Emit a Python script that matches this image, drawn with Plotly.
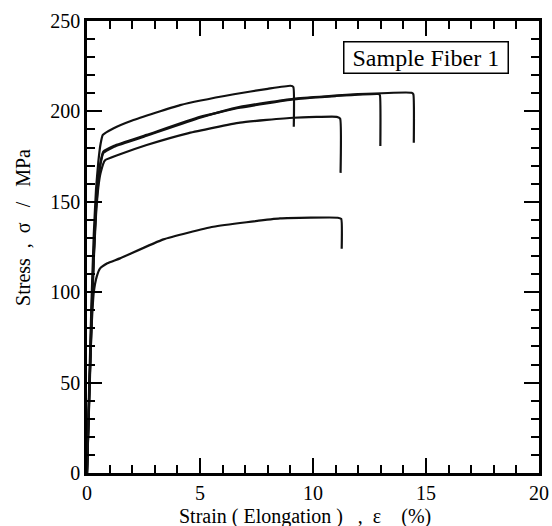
import plotly.graph_objects as go

# stress-strain curves of five specimens
strain_a = [0, 0.1, 0.2, 0.3, 0.4, 0.5, 0.6, 0.7, 1.16, 2.0, 4.12, 6.5, 8.0, 9.0, 9.13, 9.15]
stress_a = [0, 50, 95, 132, 157, 172, 182, 187, 190.6, 195, 203.5, 209.5, 212.5, 214.2, 213.5, 191.5]

strain_b = [0, 0.1, 0.2, 0.3, 0.4, 0.5, 0.6, 0.72, 1.2, 2.64, 5.0, 6.77, 9.13, 11.0, 12.9, 12.96, 12.98]
stress_b = [0, 45, 88, 122, 148, 163, 172, 177.7, 181, 187, 197, 202, 206.7, 208.5, 209.6, 209, 180.9]

strain_c = [0, 0.1, 0.2, 0.3, 0.4, 0.5, 0.6, 0.72, 1.2, 2.64, 5.0, 6.77, 9.13, 12.0, 14.36, 14.44, 14.46]
stress_c = [0, 42, 85, 120, 146, 161, 171, 177, 180.5, 186.5, 196.5, 202.5, 207, 209.5, 210.3, 209.5, 182.7]

strain_d = [0, 0.1, 0.2, 0.3, 0.4, 0.5, 0.6, 0.8, 1.4, 2.64, 4.5, 6.77, 9.13, 11.05, 11.2, 11.22]
stress_d = [0, 40, 82, 118, 143, 158, 166, 173, 176, 181.4, 188, 193.8, 196.5, 197, 196, 166]

strain_e = [0, 0.1, 0.2, 0.3, 0.43, 0.58, 0.9, 1.46, 3.38, 5.59, 8.54, 11.1, 11.25, 11.27]
stress_e = [0, 45, 80, 100, 108.6, 113.2, 116, 118.7, 129.2, 136.2, 140.8, 141.2, 140.5, 124]

curves = [(strain_a, stress_a), (strain_b, stress_b), (strain_c, stress_c),
          (strain_d, stress_d), (strain_e, stress_e)]

x_ticks = [0, 5, 10, 15, 20]
y_ticks = [0, 50, 100, 150, 200, 250]

serif = "Liberation Serif, Times New Roman, serif"
sp = "\u00a0"

fig = go.Figure()
for xs, ys in curves:
    fig.add_trace(go.Scatter(x=xs, y=ys, mode="lines",
                             line=dict(color="#111111", width=2.2, shape="spline", smoothing=0.4),
                             showlegend=False, hoverinfo="skip"))

axis_common = dict(
    showline=True, linecolor="black", linewidth=2.5, mirror="allticks",
    ticks="inside", ticklen=15, tickwidth=1.5, tickcolor="black",
    showgrid=False, zeroline=False, automargin=False,
    tickfont=dict(family=serif, size=20, color="black"),
)

fig.update_xaxes(range=[0, 20], tickvals=x_ticks,
                 minor=dict(dtick=1, ticks="inside", ticklen=8, tickwidth=1.5, tickcolor="black"),
                 **axis_common)
fig.update_yaxes(range=[0, 250], tickvals=y_ticks,
                 minor=dict(dtick=10, ticks="inside", ticklen=8, tickwidth=1.5, tickcolor="black"),
                 **axis_common)

# axis titles as annotations so they can sit where the original puts them
fig.add_annotation(x=-0.142, y=0.544, xref="paper", yref="paper", textangle=-90,
                   xanchor="center", yanchor="middle",
                   text="Stress" + sp * 2 + "," + sp * 2 + "σ" + sp * 3 + "/" + sp * 3 + "MPa",
                   showarrow=False, font=dict(family=serif, size=20, color="black"))
fig.add_annotation(x=0.482, y=-0.097, xref="paper", yref="paper",
                   xanchor="center", yanchor="middle",
                   text="Strain ( Elongation )" + sp * 3 + "," + sp * 2 + "ε" + sp * 4 + "(%)",
                   showarrow=False, font=dict(family=serif, size=20, color="black"))

fig.add_annotation(x=15.0, y=229.8, xref="x", yref="y", text=sp + "Sample Fiber 1" + sp,
                   showarrow=False, font=dict(family=serif, size=24, color="black"),
                   bordercolor="black", borderwidth=1.5, borderpad=2, bgcolor="white")

fig.update_layout(width=552, height=526, plot_bgcolor="white", paper_bgcolor="white",
                  margin=dict(l=87, r=13, t=21, b=53))

# drop the page's default body margin so the figure fills the window exactly
fig.write_html("out.html", config={"displayModeBar": False},
               post_script="document.body.style.margin='0';")
